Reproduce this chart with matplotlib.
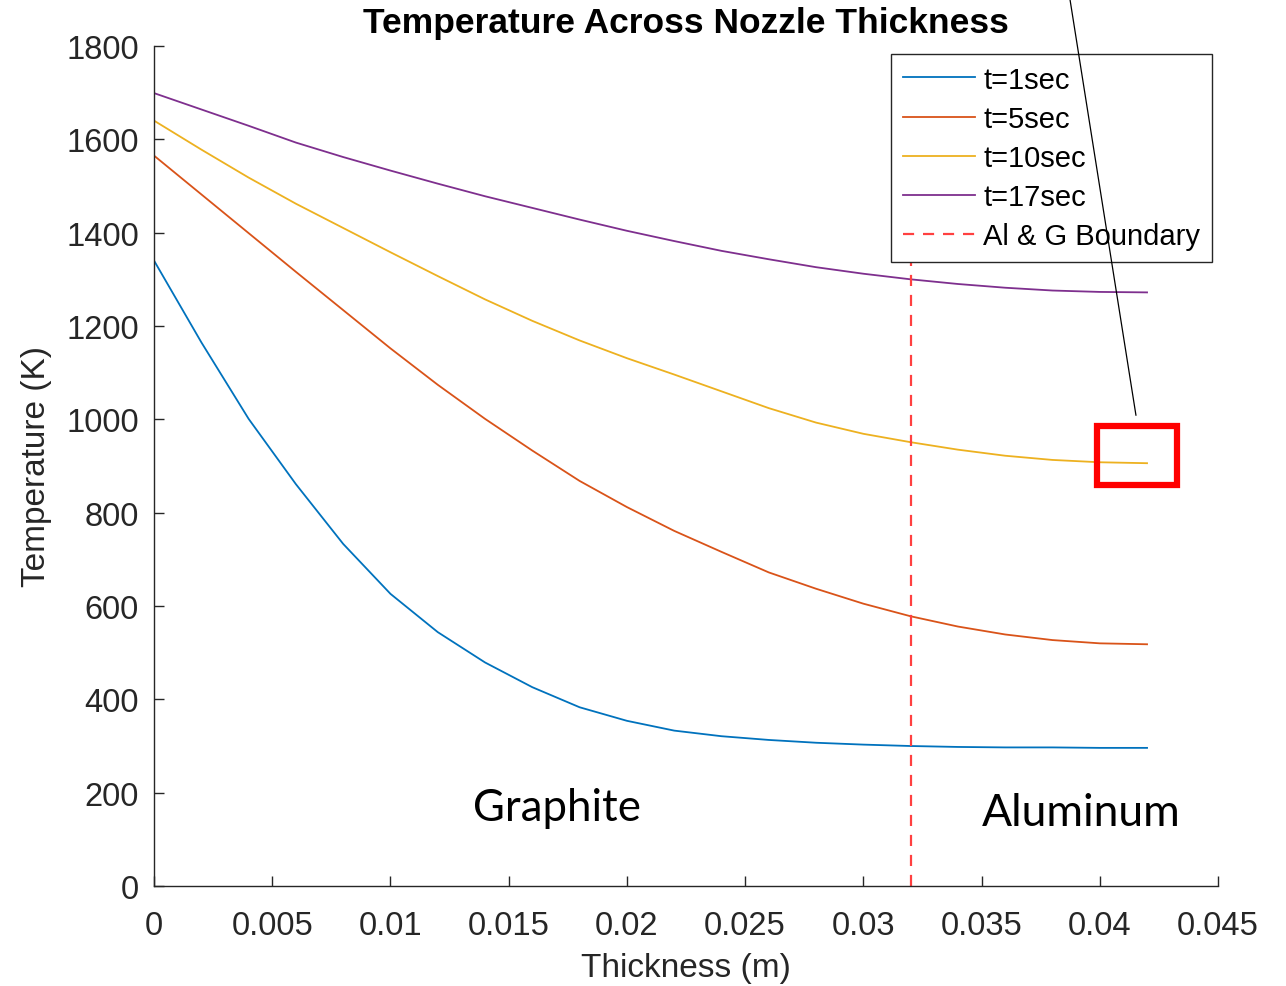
import matplotlib
matplotlib.use('Agg')
import matplotlib.pyplot as plt
from matplotlib.patches import Rectangle
import numpy as np

plt.rcParams['font.family'] = ['Liberation Sans', 'DejaVu Sans']

# thickness grid (m)
thickness = np.arange(0, 0.0421, 0.002)

temp_1s = [1340, 1165, 1001, 861, 733, 626, 544, 479, 426, 383, 354,
           333, 321, 313, 307, 303, 300, 298, 297, 297, 296, 296]
temp_5s = [1565, 1482, 1399, 1316, 1234, 1152, 1074, 1001, 933, 868, 812,
           761, 716, 672, 637, 605, 578, 556, 539, 527, 520, 518]
temp_10s = [1640, 1578, 1518, 1462, 1410, 1358, 1307, 1257, 1211, 1169, 1131,
            1096, 1060, 1024, 993, 969, 951, 935, 922, 913, 908, 906]
temp_17s = [1699, 1664, 1629, 1593, 1562, 1533, 1505, 1478, 1453, 1428, 1404,
            1382, 1361, 1343, 1326, 1312, 1300, 1290, 1282, 1276, 1273, 1272]

labels = ['t=1sec', 't=5sec', 't=10sec', 't=17sec']
colors = ['#0072BD', '#D95319', '#EDB120', '#7E2F8E']
boundary_x = 0.032

fig = plt.figure(figsize=(12.86, 9.87), dpi=100)
ax = fig.add_axes([0.1198, 0.1013, 0.8273, 0.8511])

for temps, lab, col in zip([temp_1s, temp_5s, temp_10s, temp_17s], labels, colors):
    ax.plot(thickness, temps, color=col, lw=1.3, label=lab)
ax.plot([boundary_x, boundary_x], [0, 1800], '--', color='#ff4040', lw=1.6,
        dashes=(5, 4), label='Al & G Boundary')

ax.set_xlim(0, 0.045)
ax.set_ylim(0, 1800)
ax.set_xticks(np.arange(0, 0.0451, 0.005))
ax.set_xticklabels(['0', '0.005', '0.01', '0.015', '0.02', '0.025',
                    '0.03', '0.035', '0.04', '0.045'])
ax.set_yticks(np.arange(0, 1801, 200))

for s in ['top', 'right']:
    ax.spines[s].set_visible(False)
for s in ['left', 'bottom']:
    ax.spines[s].set_color('#262626')
    ax.spines[s].set_linewidth(1.0)
ax.tick_params(direction='in', length=7, width=1.0, colors='#262626',
               labelsize=23.5)
ax.tick_params(axis='x', pad=17)
ax.tick_params(axis='y', pad=11)

ax.set_title('Temperature Across Nozzle Thickness', fontsize=25.5,
             fontweight='bold', pad=10)
ax.set_xlabel('Thickness (m)', fontsize=24, color='#262626', labelpad=8)
ax.set_ylabel('Temperature (K)', fontsize=24, color='#262626', labelpad=10)

leg = ax.legend(loc='upper right', bbox_to_anchor=(0.9944, 0.9905),
                borderaxespad=0, fontsize=21, fancybox=False,
                edgecolor='#262626', framealpha=1, handlelength=2.45,
                handletextpad=0.3, labelspacing=0.38, borderpad=0.4)
leg.get_frame().set_linewidth(1.0)

# material labels added on the picture
ax.text(0.0135, 169, 'Graphite', fontsize=31.5, family='Lato', va='center')
ax.text(0.035, 158, 'Aluminum', fontsize=32, family='Lato', va='center')

# red highlight box and pointer line (drawn over the legend)
ax.add_patch(Rectangle((0.0399, 859), 0.00338, 127, fill=False,
                       edgecolor='#ff0000', lw=4.5, clip_on=False, zorder=10))
ax.plot([0.04153, 0.03874], [1009, 1900], color='black', lw=0.9,
        clip_on=False, zorder=10)

fig.savefig('out.png', dpi=100)
